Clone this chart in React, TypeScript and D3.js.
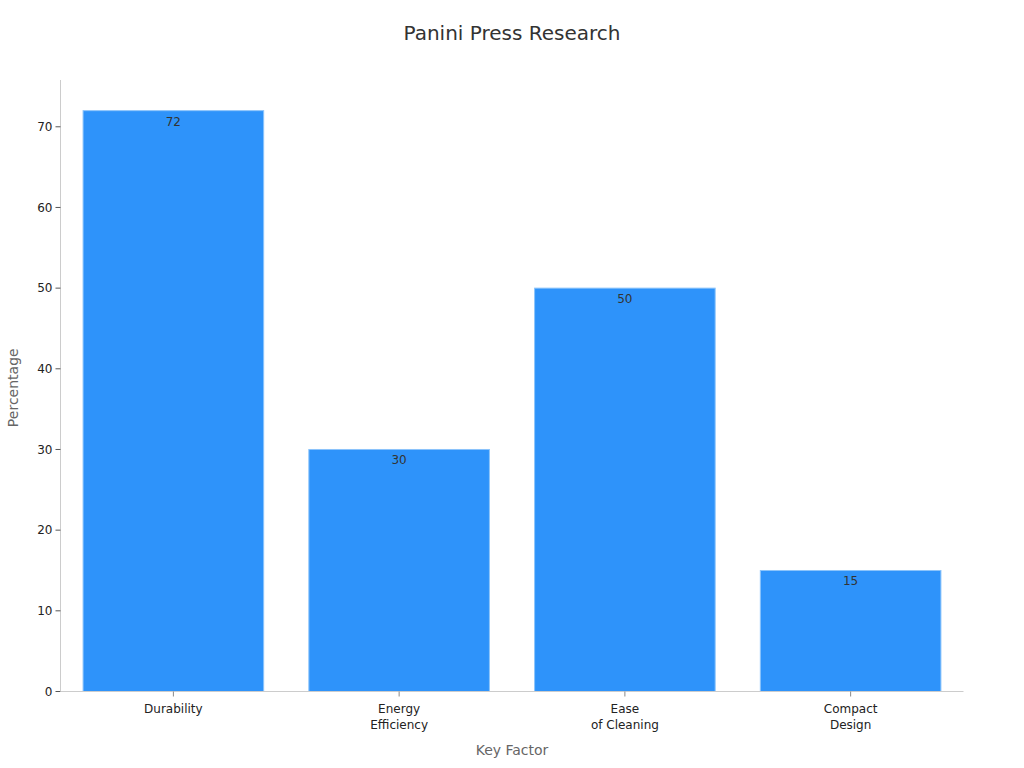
import * as d3 from "d3";

const categories = ["Durability", "Energy\nEfficiency", "Ease\nof Cleaning", "Compact\nDesign"];
const values = [72, 30, 50, 15];
const yTicks = [0, 10, 20, 30, 40, 50, 60, 70];

export default function App() {
  const width = 1024;
  const height = 768;
  const left = 60.5;
  const right = 963.5;
  const top = 80;
  const bottom = 691.5;
  const font = "DejaVu Sans, sans-serif";

  const x = d3
    .scaleBand<string>()
    .domain(categories)
    .range([left, right])
    .paddingInner(0.2)
    .paddingOuter(0.1);

  const y = d3.scaleLinear().domain([0, 75.8]).range([bottom, top]);

  return (
    <div style={{ position: "absolute", left: 0, top: 0, background: "white" }}>
      <svg width={width} height={height} style={{ display: "block", fontFamily: font }}>
        <rect width={width} height={height} fill="white" />
        <text x={512} y={40} textAnchor="middle" fontSize={20} fill="#333">
          Panini Press Research
        </text>

        {categories.map((c, i) => (
          <g key={c}>
            <rect
              x={x(c)!}
              y={y(values[i])}
              width={x.bandwidth()}
              height={bottom - y(values[i])}
              fill="#2e93fa"
              stroke="#8cc4fb"
              strokeWidth={1}
            />
            <text
              x={x(c)! + x.bandwidth() / 2}
              y={y(values[i]) + 15}
              textAnchor="middle"
              fontSize={12}
              fill="#333"
            >
              {values[i]}
            </text>
          </g>
        ))}

        {/* y axis */}
        <line x1={left} x2={left} y1={top} y2={bottom} stroke="#ccc" />
        {yTicks.map((t) => (
          <g key={t}>
            <line x1={left - 5} x2={left} y1={y(t)} y2={y(t)} stroke="#555" />
            <text x={left - 8} y={y(t)} dy="0.35em" textAnchor="end" fontSize={12} fill="#222">
              {t}
            </text>
          </g>
        ))}

        {/* x axis */}
        <line x1={left} x2={right} y1={bottom} y2={bottom} stroke="#ccc" />
        {categories.map((c) => {
          const cx = x(c)! + x.bandwidth() / 2;
          return (
            <g key={c}>
              <line x1={cx} x2={cx} y1={bottom} y2={bottom + 5} stroke="#888" />
              {c.split("\n").map((line, j) => (
                <text key={j} x={cx} y={bottom + 21 + j * 16} textAnchor="middle" fontSize={12} fill="#222">
                  {line}
                </text>
              ))}
            </g>
          );
        })}

        <text x={512} y={755} textAnchor="middle" fontSize={14} fill="#666">
          Key Factor
        </text>
        <text
          transform={`translate(18, ${(top + bottom) / 2 + 2}) rotate(-90)`}
          textAnchor="middle"
          fontSize={14}
          fill="#666"
        >
          Percentage
        </text>
      </svg>
    </div>
  );
}
